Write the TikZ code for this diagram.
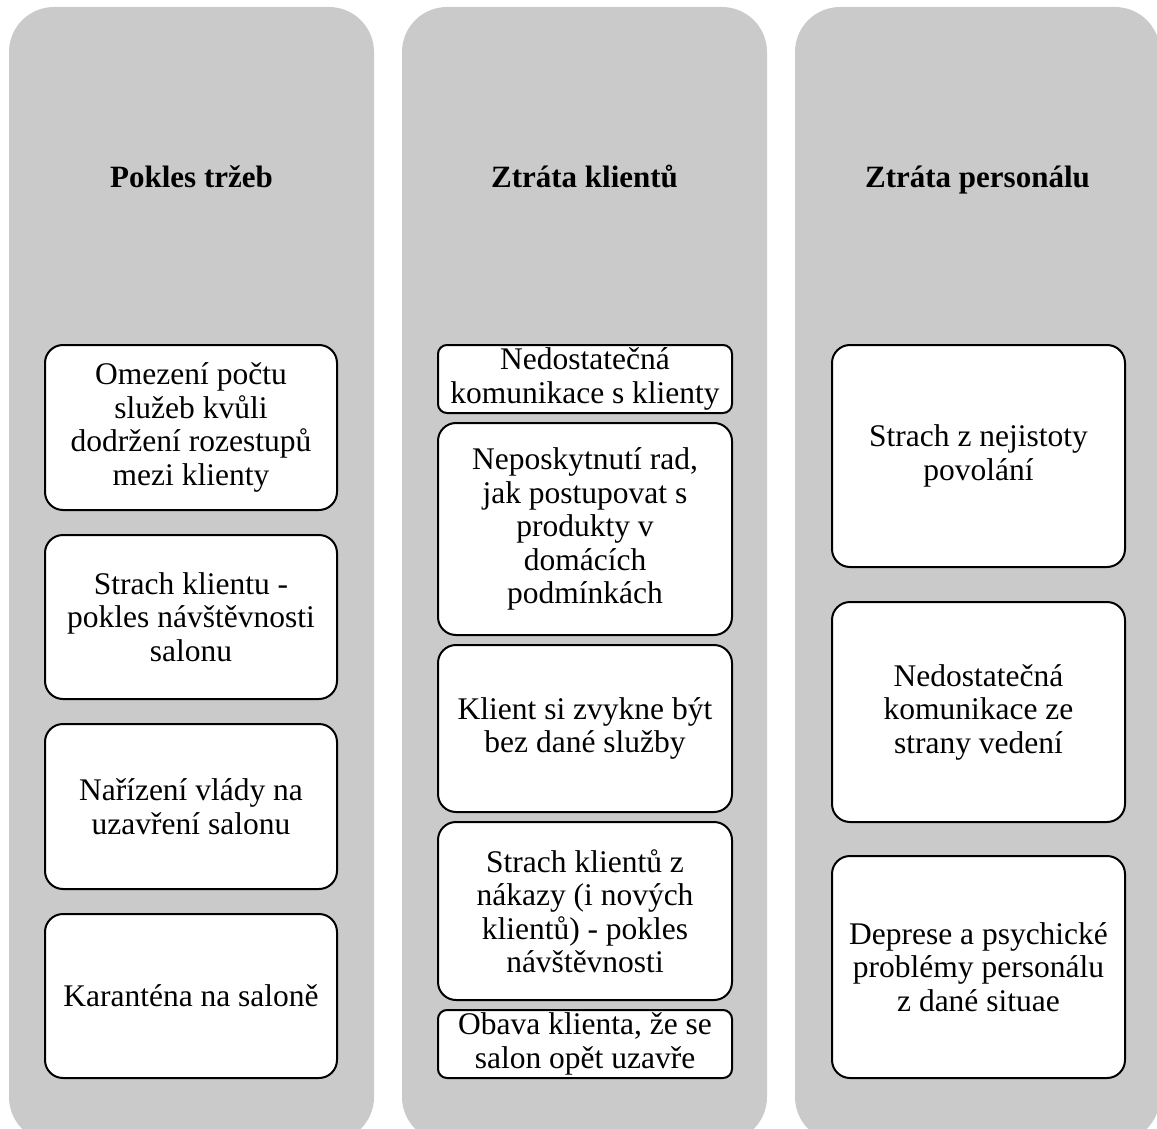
\documentclass[tikz,border=0pt]{standalone}
\usepackage{fontspec}
\setmainfont{Liberation Serif}
\definecolor{colgray}{RGB}{202,202,202}
\tikzset{
  column/.style={fill=colgray, draw=none, rounded corners=45pt, inner sep=0pt,
    minimum width=365pt, minimum height=1135pt},
  header/.style={font=\fontsize{31}{34}\selectfont\bfseries, align=center,
    inner sep=0pt, anchor=base},
  cause/.style={draw=black, fill=white, line width=2pt, rounded corners=18pt,
    inner sep=0pt, align=center, font=\fontsize{31.5}{33.5}\selectfont},
  slim/.style={cause, rounded corners=9pt},
}
\begin{document}
\begin{tikzpicture}[x=1pt, y=-1pt]
  \useasboundingbox (0,0) rectangle (1157,1129);
  \clip (0,0) rectangle (1157,1129);

  % three grey columns
  \node (colA) [column] at (191.5,574.5) {};
  \node (colB) [column] at (584.5,574.5) {};
  \node (colC) [column] at (977.5,574.5) {};

  % column headings, set on a common baseline
  \node (hA) [header] at (191.5,188) {Pokles tržeb};
  \node (hB) [header] at (584.5,188) {Ztráta klientů};
  \node (hC) [header] at (977.5,188) {Ztráta personálu};

  % left column
  \node (a1) [cause, minimum width=292pt, minimum height=165pt] at (191,427.5)
    {Omezení počtu\\služeb kvůli\\dodržení rozestupů\\mezi klienty};
  \node (a2) [cause, minimum width=292pt, minimum height=164pt] at (191,617)
    {Strach klientu -\\pokles návštěvnosti\\salonu};
  \node (a3) [cause, minimum width=292pt, minimum height=165pt] at (191,806.5)
    {Nařízení vlády na\\uzavření salonu};
  \node (a4) [cause, minimum width=292pt, minimum height=164pt] at (191,996)
    {Karanténa na saloně};

  % middle column
  \node (b1) [slim, minimum width=294pt, minimum height=68pt] at (585,379)
    {Nedostatečná\\komunikace s klienty};
  \node (b2) [cause, minimum width=294pt, minimum height=212pt] at (585,529)
    {Neposkytnutí rad,\\jak postupovat s\\produkty v\\domácích\\podmínkách};
  \node (b3) [cause, minimum width=294pt, minimum height=167pt] at (585,728.5)
    {Klient si zvykne být\\bez dané služby};
  \node (b4) [cause, minimum width=294pt, minimum height=178pt] at (585,911)
    {Strach klientů z\\nákazy (i nových\\klientů) - pokles\\návštěvnosti};
  \node (b5) [slim, minimum width=294pt, minimum height=68pt] at (585,1044)
    {Obava klienta, že se\\salon opět uzavře};

  % right column
  \node (c1) [cause, minimum width=293pt, minimum height=222pt] at (978.5,456)
    {Strach z nejistoty\\povolání};
  \node (c2) [cause, minimum width=293pt, minimum height=220pt] at (978.5,712)
    {Nedostatečná\\komunikace ze\\strany vedení};
  \node (c3) [cause, minimum width=293pt, minimum height=222pt] at (978.5,967)
    {Deprese a psychické\\problémy personálu\\z dané situae};
\end{tikzpicture}
\end{document}
